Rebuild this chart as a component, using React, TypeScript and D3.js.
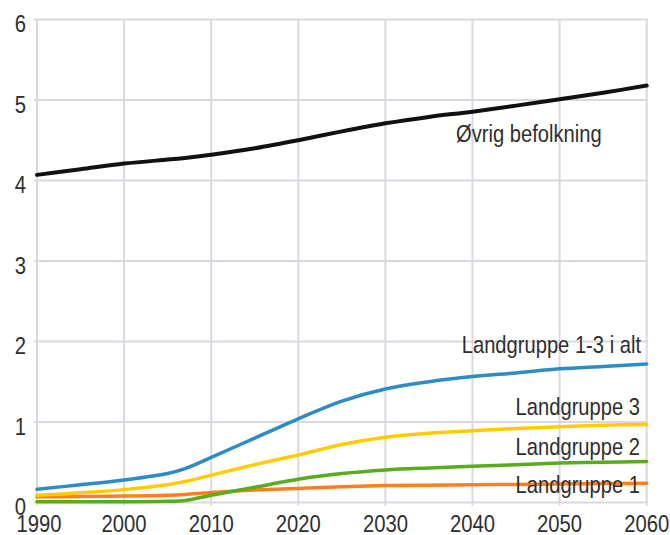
import React from "react";
import * as d3 from "d3";

// Population (millions) by year
const years = [1990, 1995, 2000, 2005, 2007, 2010, 2015, 2020, 2025, 2030, 2035, 2040, 2045, 2050, 2055, 2060];
const ovrig = [4.07, 4.14, 4.21, 4.26, 4.28, 4.32, 4.40, 4.50, 4.61, 4.71, 4.79, 4.855, 4.93, 5.01, 5.09, 5.18];
const gruppe1 = [0.07, 0.075, 0.08, 0.09, 0.10, 0.125, 0.155, 0.175, 0.195, 0.21, 0.215, 0.22, 0.225, 0.23, 0.235, 0.24];
const gruppe2 = [0.01, 0.01, 0.01, 0.015, 0.025, 0.09, 0.19, 0.29, 0.36, 0.405, 0.43, 0.45, 0.47, 0.49, 0.50, 0.51];
const gruppe3 = [0.09, 0.12, 0.16, 0.22, 0.26, 0.34, 0.47, 0.59, 0.72, 0.81, 0.86, 0.89, 0.92, 0.94, 0.96, 0.97];
const gruppeAlt = [0.165, 0.22, 0.28, 0.36, 0.42, 0.56, 0.80, 1.04, 1.26, 1.41, 1.50, 1.565, 1.61, 1.66, 1.69, 1.72];

const xTicks = [1990, 2000, 2010, 2020, 2030, 2040, 2050, 2060];
const yTicks = [0, 1, 2, 3, 4, 5, 6];

const series = [
  { name: "Øvrig befolkning", values: ovrig, color: "#111111", width: 4 },
  { name: "Landgruppe 1", values: gruppe1, color: "#ff7f1e", width: 3.5 },
  { name: "Landgruppe 2", values: gruppe2, color: "#5aab1f", width: 3.5 },
  { name: "Landgruppe 3", values: gruppe3, color: "#ffcc00", width: 3.5 },
  { name: "Landgruppe 1-3 i alt", values: gruppeAlt, color: "#2f8bc6", width: 3.5 },
];

// Label placement: x, baseline y, anchor
const labels: { text: string; x: number; y: number; anchor: string }[] = [
  { text: "Øvrig befolkning", x: 456, y: 141.5, anchor: "start" },
  { text: "Landgruppe 1-3 i alt", x: 641, y: 352.5, anchor: "end" },
  { text: "Landgruppe 3", x: 640, y: 414.5, anchor: "end" },
  { text: "Landgruppe 2", x: 640, y: 455, anchor: "end" },
  { text: "Landgruppe 1", x: 640, y: 493, anchor: "end" },
];

const W = 670;
const H = 535;
const FONT = "'Liberation Sans', Arial, sans-serif";

export default function App() {
  const x = d3.scaleLinear().domain([1990, 2060]).range([37, 646.7]);
  const y = d3.scaleLinear().domain([0, 6]).range([502.5, 19.5]);

  const line = (vals: number[]) =>
    d3
      .line<number>()
      .x((_, i) => x(years[i]))
      .y((v) => y(v))
      .curve(d3.curveCatmullRom.alpha(0.5))(vals) || "";

  const grid = "#ddd7df";

  return (
    <svg
      width={W}
      height={H}
      style={{ position: "absolute", left: 0, top: 0, display: "block", background: "#fff" }}
    >
      {/* grid */}
      <g stroke={grid} strokeWidth={2}>
        {yTicks.map((t) => (
          <line key={"gy" + t} x1={34} x2={648} y1={y(t)} y2={y(t)} />
        ))}
        {xTicks.map((t) => (
          <line key={"gx" + t} x1={x(t)} x2={x(t)} y1={y(6)} y2={y(0) + 3} />
        ))}
      </g>

      {/* y tick labels */}
      <g fill="#2e2e2e" fontFamily={FONT} fontSize={23}>
        {yTicks.map((t) => (
          <text
            key={"ty" + t}
            textAnchor="end"
            transform={`translate(26,${y(t) + 12.5}) scale(0.88,1)`}
          >
            {t}
          </text>
        ))}
      </g>

      {/* x tick labels */}
      <g fill="#2e2e2e" fontFamily={FONT} fontSize={23}>
        {xTicks.map((t) => (
          <text
            key={"tx" + t}
            textAnchor="middle"
            transform={`translate(${x(t) + (t === 1990 ? 2 : 0)},531.5) scale(0.88,1)`}
          >
            {t}
          </text>
        ))}
      </g>

      {/* series lines */}
      <g fill="none" strokeLinejoin="round" strokeLinecap="round">
        {series.map((s) => (
          <path key={s.name} d={line(s.values)} stroke={s.color} strokeWidth={s.width} />
        ))}
      </g>

      {/* line labels */}
      <g fill="#2e2e2e" fontFamily={FONT} fontSize={24}>
        {labels.map((l) => (
          <text
            key={l.text}
            textAnchor={l.anchor as any}
            transform={`translate(${l.x},${l.y}) scale(0.84,1)`}
          >
            {l.text}
          </text>
        ))}
      </g>
    </svg>
  );
}
